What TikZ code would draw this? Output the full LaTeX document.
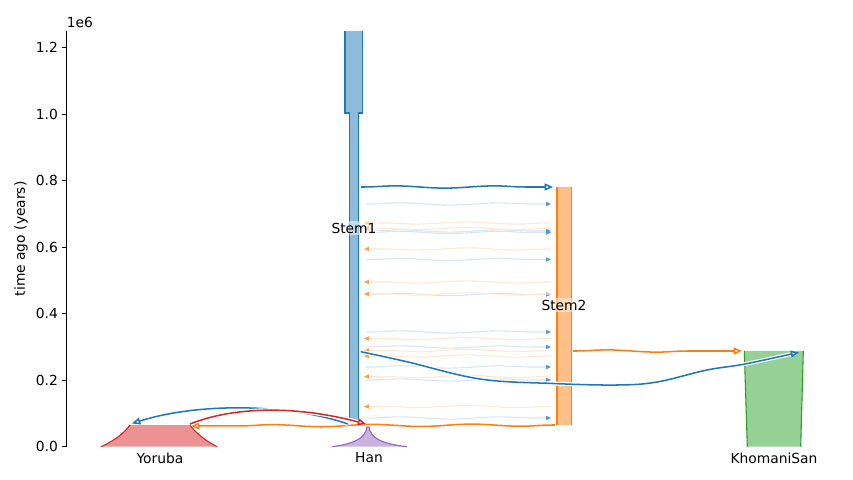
\documentclass[tikz,border=0pt]{standalone}
\usepackage{fontspec}
\setmainfont{DejaVu Sans}
\usetikzlibrary{arrows.meta,decorations.pathmorphing}
\definecolor{tabblue}{HTML}{1F77B4}
\definecolor{taborange}{HTML}{FF7F0E}
\definecolor{tabgreen}{HTML}{2CA02C}
\definecolor{tabred}{HTML}{D62728}
\definecolor{tabpurple}{HTML}{9467BD}
\begin{document}
\begin{tikzpicture}[x=0.0254cm, y=-0.0254cm, font=\fontsize{10}{12}\selectfont,
	edge/.style={line width=0.8pt},
	wavy/.style={decorate, decoration={snake, amplitude=0.8pt, segment length=72pt, pre length=2pt, post length=6pt}},
	pulse/.style={line width=1.1pt, preaction={draw=white, line width=2.8pt}, -{Triangle[open, length=6pt, width=5pt]}},
	faint/.style={line width=0.8pt, wavy},
	demelabel/.style={fill=white, fill opacity=0.5, text opacity=1, inner sep=1.5pt}]
	\useasboundingbox (0,0) rectangle (853,480);
	% axis
	\draw[line width=0.6pt] (66.7,31) -- (66.7,446.7);
	\foreach \v/\lab in {0/0.0, 1/0.2, 2/0.4, 3/0.6, 4/0.8, 5/1.0, 6/1.2}
		\draw[line width=0.6pt] (66.7,446.7-66.5*\v) -- (61.8,446.7-66.5*\v) node[left, inner sep=2.5pt] {\lab};
	\node[anchor=south west, inner sep=0pt] (mult) at (66.5,27.5) {1e6};
	\node[rotate=90] (ylab) at (21,238.8) {time ago (years)};
	% demes
	\fill[tabblue!50] (345,31) -- (362.5,31) -- (362.5,113) -- (358.7,113) -- (358.7,420) -- (349.3,420) -- (349.3,113) -- (345,113) -- cycle;
	\draw[edge, tabblue] (345,31) -- (345,113) -- (349.3,113) -- (349.3,420);
	\draw[edge, tabblue] (362.5,31) -- (362.5,113) -- (358.7,113) -- (358.7,420);
	\fill[taborange!50] (557,186.7) rectangle (571.5,425);
	\draw[edge, taborange] (557,186.7) -- (557,425);
	\draw[edge, taborange] (571.5,186.7) -- (571.5,425);
	\fill[tabred!50] (101,446.7) .. controls (116,440) and (125,432) .. (130,425) -- (190,425) .. controls (195,432) and (204,440) .. (217,446.7) -- cycle;
	\draw[edge, tabred] (101,446.7) .. controls (116,440) and (125,432) .. (130,425);
	\draw[edge, tabred] (190,425) .. controls (195,432) and (204,440) .. (217,446.7);
	\fill[tabpurple!50] (332,446.7) .. controls (352,444) and (366.5,439) .. (367,426) -- (369,426) .. controls (369.5,439) and (384,444) .. (407,446.7) -- cycle;
	\draw[edge, tabpurple] (332,446.7) .. controls (352,444) and (366.5,439) .. (367,426);
	\draw[edge, tabpurple] (369,426) .. controls (369.5,439) and (384,444) .. (407,446.7);
	\fill[tabgreen!50] (744.3,351) -- (803.3,351) -- (800.7,446.7) -- (747.3,446.7) -- cycle;
	\draw[edge, tabgreen] (744.3,351) -- (747.3,446.7);
	\draw[edge, tabgreen] (803.3,351) -- (800.7,446.7);
	% continuous migration between the stems
	\foreach \y in {204, 231, 232.5, 259.5, 294.5, 332, 347, 367, 380, 418}
		\draw[faint, tabblue!18, -{Triangle[length=3.5pt, width=3pt, color=tabblue!75]}] (366,\y) -- (551,\y);
	\foreach \y in {223, 228.5, 249, 282, 294, 338.5, 350.5, 356, 376.5, 406.5}
		\draw[faint, taborange!18, -{Triangle[length=3.5pt, width=3pt, color=taborange!75]}] (551,\y) -- (364,\y);
	% pulses
	\coordinate (s1top) at (361,187);
	\coordinate (s2top) at (553,187);
	\coordinate (s1mid) at (360.7,351.7);
	\coordinate (ksan) at (799,352.3);
	\coordinate (s2mid) at (573,351);
	\coordinate (ksanl) at (742,351);
	\coordinate (s1low) at (348,424);
	\coordinate (yor) at (132,423.5);
	\coordinate (yorr) at (190,424);
	\coordinate (han) at (366,424);
	\coordinate (s2low) at (555,425);
	\coordinate (yorr2) at (191,426);
	\draw[pulse, wavy, tabblue] (s1top) -- (s2top);
	\draw[pulse, wavy, taborange] (s2mid) -- (ksanl);
	\draw[pulse, tabblue] plot[smooth, tension=0.6] coordinates {(s1mid) (406.7,361.7) (480,379) (553,383.5) (617,385) (657,382) (707,370) (745,364) (ksan)};
	\draw[pulse, wavy, taborange] (s2low) -- (yorr2);
	\draw[pulse, tabblue] (s1low) .. controls (290,404) and (200,402) .. (yor);
	\draw[pulse, tabred] (yorr) .. controls (230,408) and (290,404) .. (han);
	% deme names
	\node (yoruba) at (160,458) {Yoruba};
	\node (hanlab) at (369,458) {Han};
	\node (khomani) at (774,458) {KhomaniSan};
	\node[demelabel] (stem1) at (354,228) {Stem1};
	\node[demelabel] (stem2) at (564,305) {Stem2};
\end{tikzpicture}
\end{document}
